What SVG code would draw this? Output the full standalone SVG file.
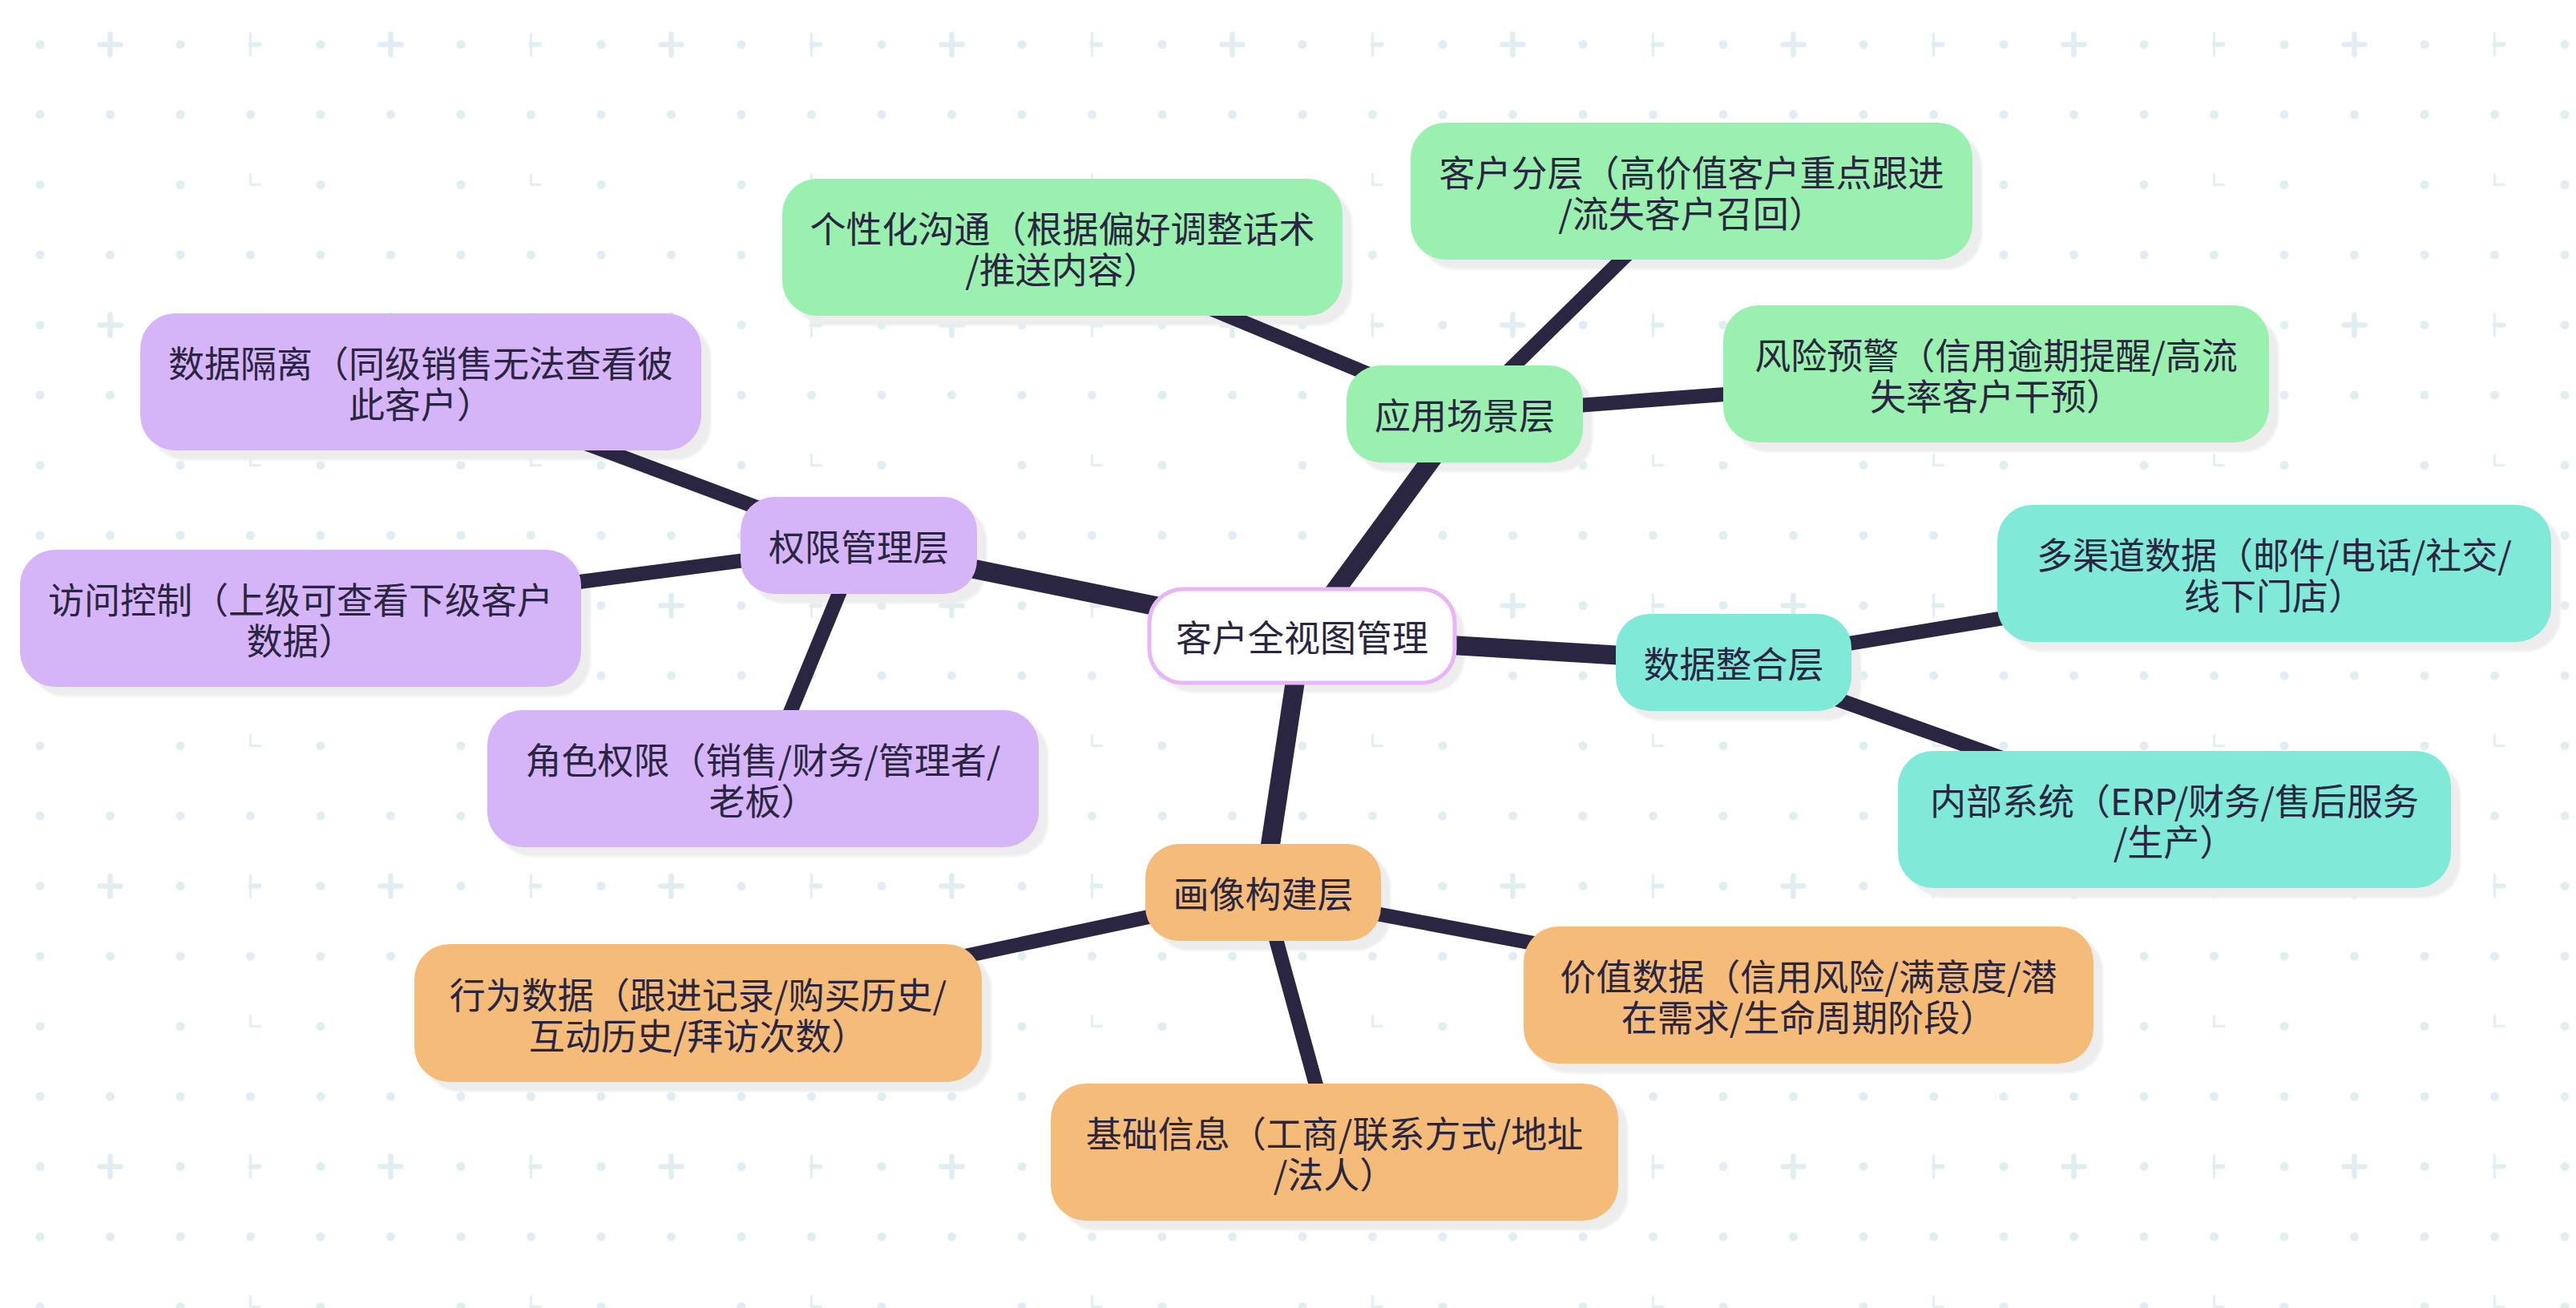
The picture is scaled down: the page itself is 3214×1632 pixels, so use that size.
<svg xmlns="http://www.w3.org/2000/svg" width="3214" height="1632" viewBox="0 0 3214 1632">
  <defs>
    <pattern id="bg" x="6.25" y="11.75" width="350" height="350" patternUnits="userSpaceOnUse">
      <g fill="#e0eef2" stroke="none">
        <circle cx="43.75" cy="43.75" r="5.5"/>
        <circle cx="218.75" cy="43.75" r="5.5"/>
        <circle cx="43.75" cy="131.25" r="5.5"/>
        <circle cx="131.25" cy="131.25" r="5.5"/>
        <circle cx="218.75" cy="131.25" r="5.5"/>
        <circle cx="306.25" cy="131.25" r="5.5"/>
        <circle cx="43.75" cy="218.75" r="5.5"/>
        <circle cx="218.75" cy="218.75" r="5.5"/>
        <circle cx="43.75" cy="306.25" r="5.5"/>
        <circle cx="131.25" cy="306.25" r="5.5"/>
        <circle cx="218.75" cy="306.25" r="5.5"/>
        <circle cx="306.25" cy="306.25" r="5.5"/>
      </g>
      <g fill="none" stroke="#e0eef2" stroke-linecap="round">
        <path d="M131.25 30.75V56.75M118.25 43.75H144.25" stroke-width="6.5"/>
        <path d="M306.25 29.75V57.75" stroke-width="3"/>
        <path d="M306.25 43.75H317.25" stroke-width="6"/>
        <path d="M306.25 205.75V218.75H318.25" stroke-width="3"/>
      </g>
    </pattern>
    <filter id="soft" x="-5%" y="-5%" width="110%" height="110%">
      <feGaussianBlur stdDeviation="1.5"/>
    </filter>
  </defs>
  <style>
    .shadow { fill: #ededed; filter: url(#soft); }
    .box { stroke: none; }
    .green { fill: #9af0ae; }
    .purple { fill: #d5b5f7; }
    .teal { fill: #80e9d7; }
    .orange { fill: #f4bc78; }
    .root { fill: #ffffff; stroke: #e8b5f8; stroke-width: 5; }
    .lbl { font-family: "Noto Sans CJK SC", "Noto Sans", sans-serif; font-size: 45px; fill: #2a2540; text-anchor: middle; dominant-baseline: central; }
    .main { stroke: #2a2540; stroke-width: 24; stroke-linecap: butt; fill: none; }
    .leaf { stroke: #2a2540; stroke-width: 18; stroke-linecap: butt; fill: none; }
  </style>

  <rect width="3214" height="1632" fill="#ffffff"/>
  <rect width="3214" height="1632" fill="url(#bg)"/>

  <g id="shadows">
    <rect class="shadow" x="1446" y="747" width="381" height="117" rx="42"/>
    <rect class="shadow" x="1692" y="468" width="295" height="121" rx="42"/>
    <rect class="shadow" x="936" y="632" width="295" height="121" rx="42"/>
    <rect class="shadow" x="2028" y="778" width="294" height="121" rx="42"/>
    <rect class="shadow" x="1441" y="1065" width="294" height="121" rx="42"/>
    <rect class="shadow" x="988" y="235" width="699" height="171" rx="44"/>
    <rect class="shadow" x="1772" y="165" width="701" height="171" rx="44"/>
    <rect class="shadow" x="2162" y="393" width="681" height="171" rx="44"/>
    <rect class="shadow" x="187" y="403" width="700" height="171" rx="44"/>
    <rect class="shadow" x="37" y="698" width="700" height="171" rx="44"/>
    <rect class="shadow" x="620" y="898" width="688" height="171" rx="44"/>
    <rect class="shadow" x="2504" y="642" width="691" height="171" rx="44"/>
    <rect class="shadow" x="2380" y="949" width="690" height="171" rx="44"/>
    <rect class="shadow" x="529" y="1190" width="708" height="172" rx="44"/>
    <rect class="shadow" x="1913" y="1168" width="711" height="171" rx="44"/>
    <rect class="shadow" x="1323" y="1364" width="708" height="171" rx="44"/>
  </g>

  <g id="connectors">
    <line class="main" x1="1624.5" y1="793.5" x2="1827.5" y2="516.5"/>
    <line class="main" x1="1624.5" y1="793.5" x2="1071.5" y2="680.5"/>
    <line class="main" x1="1624.5" y1="793.5" x2="2163" y2="826.5"/>
    <line class="main" x1="1624.5" y1="793.5" x2="1576" y2="1113.5"/>
    <line class="leaf" x1="1827.5" y1="516.5" x2="1325.5" y2="308.5"/>
    <line class="leaf" x1="1827.5" y1="516.5" x2="2110.5" y2="238.5"/>
    <line class="leaf" x1="1827.5" y1="516.5" x2="2490.5" y2="466.5"/>
    <line class="leaf" x1="1071.5" y1="680.5" x2="525" y2="476.5"/>
    <line class="leaf" x1="1071.5" y1="680.5" x2="375" y2="771.5"/>
    <line class="leaf" x1="1071.5" y1="680.5" x2="952" y2="971.5"/>
    <line class="leaf" x1="2163" y1="826.5" x2="2837.5" y2="715.5"/>
    <line class="leaf" x1="2163" y1="826.5" x2="2713" y2="1022.5"/>
    <line class="leaf" x1="1576" y1="1113.5" x2="871" y2="1264"/>
    <line class="leaf" x1="1576" y1="1113.5" x2="2256.5" y2="1241.5"/>
    <line class="leaf" x1="1576" y1="1113.5" x2="1665" y2="1437.5"/>
  </g>

  <g id="root">
    <rect class="root" x="1434" y="735" width="381" height="117" rx="42"/>
    <text class="lbl" x="1624.5" y="793.5">客户全视图管理</text>
  </g>

  <g id="layer-app">
    <rect class="box green" x="1680" y="456" width="295" height="121" rx="42"/>
    <text class="lbl" x="1827.5" y="516.5">应用场景层</text>
  </g>
  <g id="layer-perm">
    <rect class="box purple" x="924" y="620" width="295" height="121" rx="42"/>
    <text class="lbl" x="1071.5" y="680.5">权限管理层</text>
  </g>
  <g id="layer-data">
    <rect class="box teal" x="2016" y="766" width="294" height="121" rx="42"/>
    <text class="lbl" x="2163" y="826.5">数据整合层</text>
  </g>
  <g id="layer-profile">
    <rect class="box orange" x="1429" y="1053" width="294" height="121" rx="42"/>
    <text class="lbl" x="1576" y="1113.5">画像构建层</text>
  </g>

  <g id="leaf-personal">
    <rect class="box green" x="976" y="223" width="699" height="171" rx="44"/>
    <text class="lbl" x="1325.5" y="283"><tspan x="1325.5">个性化沟通（根据偏好调整话术</tspan><tspan x="1325.5" dy="51">/推送内容）</tspan></text>
  </g>
  <g id="leaf-tier">
    <rect class="box green" x="1760" y="153" width="701" height="171" rx="44"/>
    <text class="lbl" x="2110.5" y="213"><tspan x="2110.5">客户分层（高价值客户重点跟进</tspan><tspan x="2110.5" dy="51">/流失客户召回）</tspan></text>
  </g>
  <g id="leaf-risk">
    <rect class="box green" x="2150" y="381" width="681" height="171" rx="44"/>
    <text class="lbl" x="2490.5" y="441"><tspan x="2490.5">风险预警（信用逾期提醒/高流</tspan><tspan x="2490.5" dy="51">失率客户干预）</tspan></text>
  </g>
  <g id="leaf-isolation">
    <rect class="box purple" x="175" y="391" width="700" height="171" rx="44"/>
    <text class="lbl" x="525" y="451"><tspan x="525">数据隔离（同级销售无法查看彼</tspan><tspan x="525" dy="51">此客户）</tspan></text>
  </g>
  <g id="leaf-access">
    <rect class="box purple" x="25" y="686" width="700" height="171" rx="44"/>
    <text class="lbl" x="375" y="746"><tspan x="375">访问控制（上级可查看下级客户</tspan><tspan x="375" dy="51">数据）</tspan></text>
  </g>
  <g id="leaf-role">
    <rect class="box purple" x="608" y="886" width="688" height="171" rx="44"/>
    <text class="lbl" x="952" y="946"><tspan x="952">角色权限（销售/财务/管理者/</tspan><tspan x="952" dy="51">老板）</tspan></text>
  </g>
  <g id="leaf-channel">
    <rect class="box teal" x="2492" y="630" width="691" height="171" rx="44"/>
    <text class="lbl" x="2837.5" y="690"><tspan x="2837.5">多渠道数据（邮件/电话/社交/</tspan><tspan x="2837.5" dy="51">线下门店）</tspan></text>
  </g>
  <g id="leaf-internal">
    <rect class="box teal" x="2368" y="937" width="690" height="171" rx="44"/>
    <text class="lbl" x="2713" y="997"><tspan x="2713">内部系统（ERP/财务/售后服务</tspan><tspan x="2713" dy="51">/生产）</tspan></text>
  </g>
  <g id="leaf-behavior">
    <rect class="box orange" x="517" y="1178" width="708" height="172" rx="44"/>
    <text class="lbl" x="871" y="1239"><tspan x="871">行为数据（跟进记录/购买历史/</tspan><tspan x="871" dy="51">互动历史/拜访次数）</tspan></text>
  </g>
  <g id="leaf-value">
    <rect class="box orange" x="1901" y="1156" width="711" height="171" rx="44"/>
    <text class="lbl" x="2256.5" y="1216"><tspan x="2256.5">价值数据（信用风险/满意度/潜</tspan><tspan x="2256.5" dy="51">在需求/生命周期阶段）</tspan></text>
  </g>
  <g id="leaf-basic">
    <rect class="box orange" x="1311" y="1352" width="708" height="171" rx="44"/>
    <text class="lbl" x="1665" y="1412"><tspan x="1665">基础信息（工商/联系方式/地址</tspan><tspan x="1665" dy="51">/法人）</tspan></text>
  </g>
</svg>
